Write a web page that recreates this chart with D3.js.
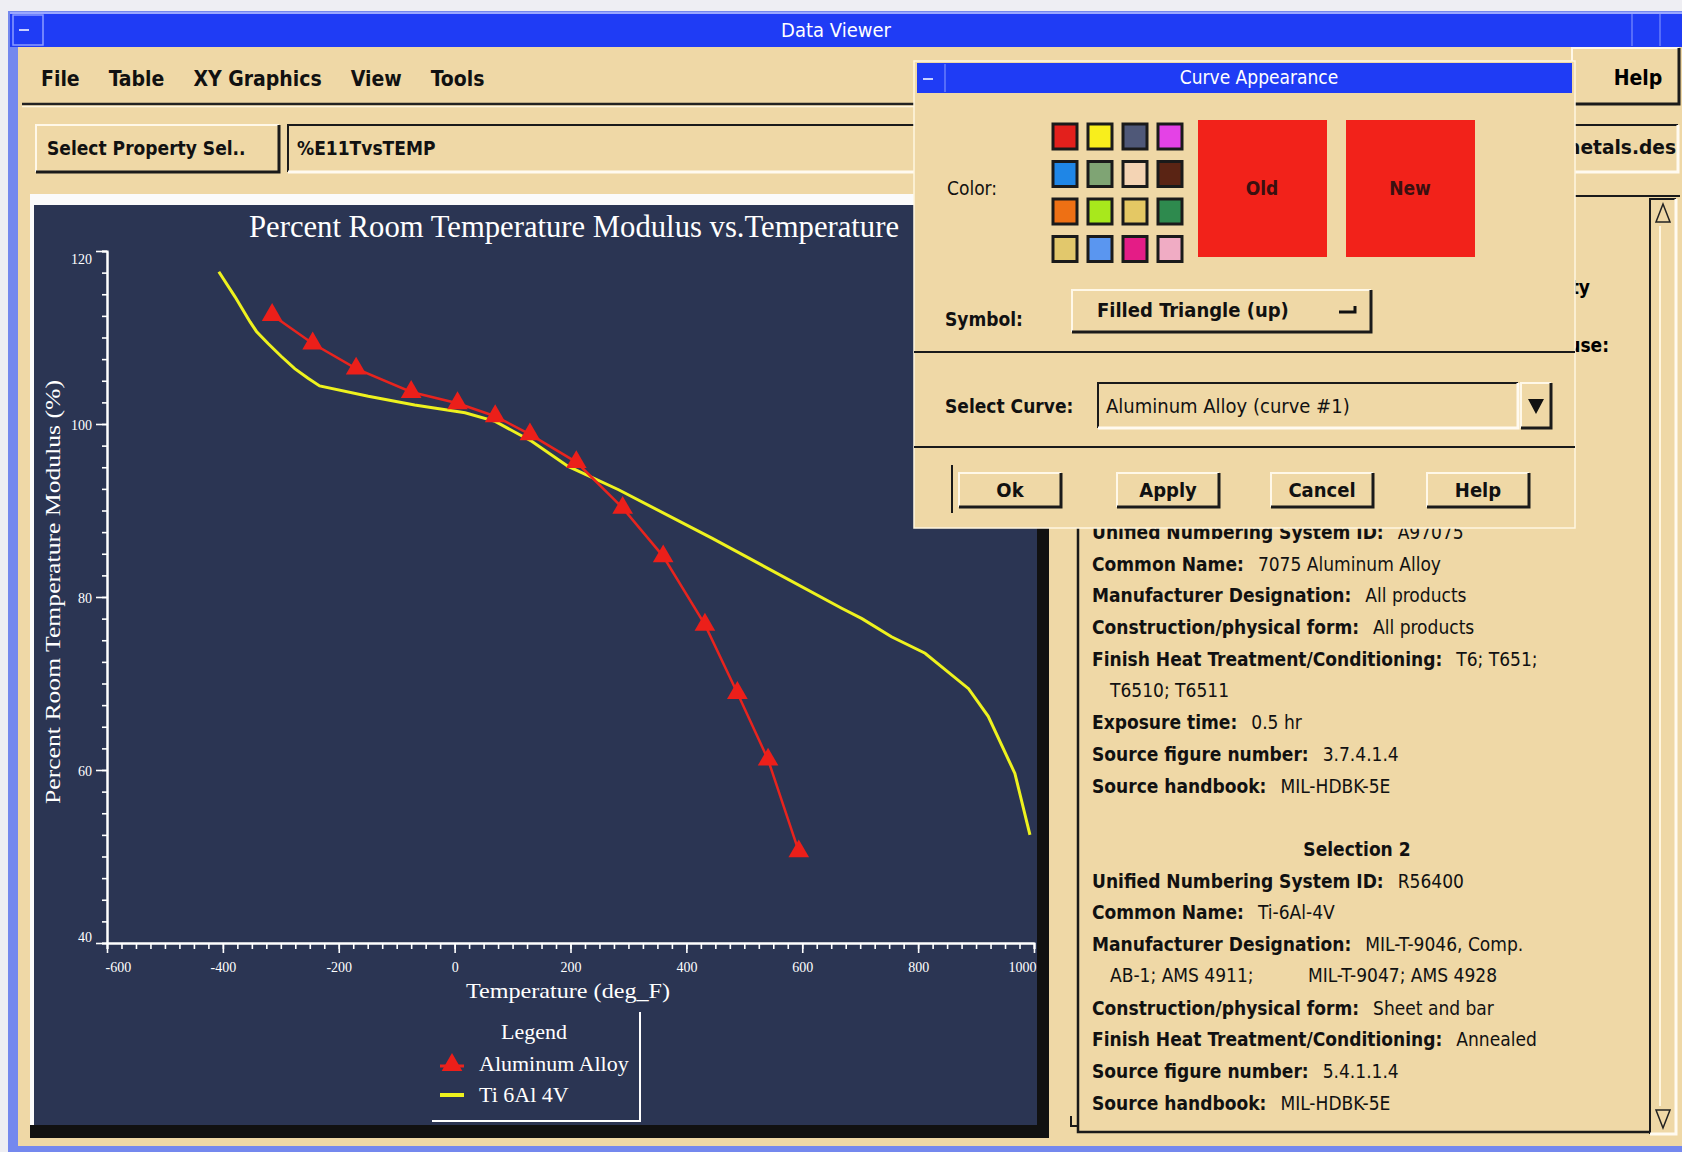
<!DOCTYPE html>
<html>
<head>
<meta charset="utf-8">
<script src="https://cdn.jsdelivr.net/npm/d3@7"></script>
<style>
  body { margin: 0; background: #eeeef3; overflow: hidden }
  .ui { font-family: "DejaVu Sans Condensed", "Liberation Sans Narrow", "DejaVu Sans", sans-serif; white-space: pre }
  .serif { font-family: "Liberation Serif", "DejaVu Serif", serif }
</style>
</head>
<body>
<script>
// ---- chart data ----
let alTemp = [-315, -245, -170, -75, 5, 70, 130, 210, 290, 360, 432, 488, 541, 594]
let alPct  = [112.6, 109.3, 106.4, 103.7, 102.4, 100.9, 98.8, 95.6, 90.3, 84.7, 76.8, 68.9, 61.2, 50.6]
let tiTemp = [-407, -379, -353, -342, -322, -299, -276, -253, -233, -149, -69, 18, 70, 133, 196, 283, 444, 668, 703, 754, 812, 887, 921, 967, 993]
let tiPct  = [117.6, 114.7, 111.8, 110.7, 109.3, 107.8, 106.4, 105.3, 104.4, 103.2, 102.2, 101.3, 100.3, 98.0, 95.1, 92.4, 86.8, 78.7, 77.5, 75.4, 73.5, 69.4, 66.2, 59.6, 52.5]
let xTicks = [-600, -400, -200, 0, 200, 400, 600, 800, 1000]
let yTicks = [40, 60, 80, 100, 120]
let seriesNames = ['Aluminum Alloy', 'Ti 6Al 4V']

// ---- application text ----
let menuItems = ['File', 'Table', 'XY Graphics', 'View', 'Tools']
let swatchColors = ['#e3201c', '#f8ee1c', '#4f5878', '#e442e6',
                    '#1f86e6', '#7fa474', '#f4d4b4', '#5a2414',
                    '#ee7014', '#a8e81c', '#e4c864', '#2e8a4e',
                    '#e2c86c', '#5a96f0', '#e41c86', '#f0acc4']
let dialogButtons = ['Ok', 'Apply', 'Cancel', 'Help']
let infoLines = [
  ['Unified Numbering System ID:', 'A97075'],
  ['Common Name:', '7075 Aluminum Alloy'],
  ['Manufacturer Designation:', 'All products'],
  ['Construction/physical form:', 'All products'],
  ['Finish Heat Treatment/Conditioning:', 'T6; T651;'],
  ['', 'T6510; T6511'],
  ['Exposure time:', '0.5 hr'],
  ['Source figure number:', '3.7.4.1.4'],
  ['Source handbook:', 'MIL-HDBK-5E'],
  ['', ''],
  ['Selection 2', null],
  ['Unified Numbering System ID:', 'R56400'],
  ['Common Name:', 'Ti-6Al-4V'],
  ['Manufacturer Designation:', 'MIL-T-9046, Comp.'],
  ['', 'AB-1; AMS 4911;          MIL-T-9047; AMS 4928'],
  ['Construction/physical form:', 'Sheet and bar'],
  ['Finish Heat Treatment/Conditioning:', 'Annealed'],
  ['Source figure number:', '5.4.1.1.4'],
  ['Source handbook:', 'MIL-HDBK-5E']
]

let tan = '#efd8a6'
let navy = '#2b3553'
let blue = '#1f3cf5'
let W = 1682, H = 1152

let svg = d3.select('body').append('svg')
  .attr('width', W).attr('height', H)

//raised / sunken box helper
function bevel(g, x, y, w, h, sunken, fill) {
  g.append('rect').attr('x', x).attr('y', y).attr('width', w).attr('height', h)
    .attr('fill', fill || tan)
  let lt = sunken ? '#1a1a1a' : '#fff8e8', dk = sunken ? '#fffaf0' : '#1a1a1a'
  g.append('path').attr('d', `M${x},${y + h}V${y}H${x + w}`)
    .attr('fill', 'none').attr('stroke', lt).attr('stroke-width', 2)
  g.append('path').attr('d', `M${x + w},${y}V${y + h}H${x}`)
    .attr('fill', 'none').attr('stroke', dk).attr('stroke-width', 3)
}

// ---- window frame ----
svg.append('rect').attr('x', 8).attr('y', 11).attr('width', W - 8).attr('height', H - 11).attr('fill', '#7488ee')
svg.append('rect').attr('x', 18).attr('y', 47).attr('width', W - 18).attr('height', 1099).attr('fill', tan)
svg.append('rect').attr('x', 10).attr('y', 13).attr('width', W - 10).attr('height', 34).attr('fill', blue)
svg.append('line').attr('x1', 10).attr('x2', W).attr('y1', 13).attr('y2', 13).attr('stroke', '#9aa8ff').attr('stroke-width', 2)
svg.append('rect').attr('x', 13).attr('y', 15).attr('width', 30).attr('height', 30)
  .attr('fill', 'none').attr('stroke', '#8c9cff').attr('stroke-width', 1.5)
svg.append('line').attr('x1', 19).attr('x2', 29).attr('y1', 30).attr('y2', 30).attr('stroke', '#c8d0ff').attr('stroke-width', 2)
svg.append('line').attr('x1', 1632).attr('x2', 1632).attr('y1', 14).attr('y2', 46).attr('stroke', '#8c9cff')
svg.append('line').attr('x1', 1660).attr('x2', 1660).attr('y1', 14).attr('y2', 46).attr('stroke', '#8c9cff')
svg.append('text').attr('class', 'ui').attr('x', 836).attr('y', 31)
  .attr('text-anchor', 'middle').attr('dominant-baseline', 'middle')
  .attr('fill', 'white').attr('font-size', 20).text('Data Viewer')

// ---- menu bar ----
let menu = svg.append('g').attr('class', 'ui').attr('font-size', 21).attr('font-weight', 'bold').attr('fill', '#111')
let mx = 41
menuItems.forEach(m => {
  let t = menu.append('text').attr('x', mx).attr('y', 80).attr('dominant-baseline', 'middle').text(m)
  mx += t.node().getComputedTextLength() + 29
})
svg.append('line').attr('x1', 22).attr('x2', 1572).attr('y1', 104).attr('y2', 104).attr('stroke', '#222').attr('stroke-width', 2.5)
svg.append('line').attr('x1', 22).attr('x2', 1572).attr('y1', 106.5).attr('y2', 106.5).attr('stroke', '#fff6e0').attr('stroke-width', 1.5)
bevel(svg, 1572, 48, 107, 56, false)
svg.append('text').attr('class', 'ui').attr('x', 1638).attr('y', 79).attr('text-anchor', 'middle')
  .attr('dominant-baseline', 'middle').attr('font-size', 21).attr('font-weight', 'bold').text('Help')

// ---- property row ----
bevel(svg, 36, 125, 243, 47, false)
svg.append('text').attr('class', 'ui').attr('x', 47).attr('y', 149).attr('dominant-baseline', 'middle')
  .attr('font-size', 19).attr('font-weight', 'bold').attr('fill', '#111').text('Select Property Sel..')
bevel(svg, 288, 125, 1390, 47, true)
svg.append('text').attr('class', 'ui').attr('x', 297).attr('y', 149).attr('dominant-baseline', 'middle')
  .attr('font-size', 19).attr('font-weight', 'bold').attr('fill', '#111').text('%E11TvsTEMP')
svg.append('text').attr('class', 'ui').attr('x', 1676).attr('y', 148).attr('text-anchor', 'end')
  .attr('dominant-baseline', 'middle').attr('font-size', 19).attr('font-weight', 'bold').attr('fill', '#111')
  .attr('textLength', 115).attr('lengthAdjust', 'spacingAndGlyphs')
  .text('metals.des')

// ---- labels behind the dialog on the right ----
svg.append('text').attr('class', 'ui').attr('x', 1590).attr('y', 288).attr('text-anchor', 'end')
  .attr('dominant-baseline', 'middle').attr('font-size', 19).attr('font-weight', 'bold').text('Selected Property')
svg.append('text').attr('class', 'ui').attr('x', 1609).attr('y', 346).attr('text-anchor', 'end')
  .attr('dominant-baseline', 'middle').attr('font-size', 19).attr('font-weight', 'bold').text('Curves to use:')
svg.append('line').attr('x1', 1575).attr('x2', 1680).attr('y1', 196).attr('y2', 196).attr('stroke', '#1a1a1a').attr('stroke-width', 2)

// ---- info text area ----
let info = svg.append('g')
info.append('path').attr('d', 'M1078,500V1132H1649').attr('fill', 'none').attr('stroke', '#1a1a1a').attr('stroke-width', 2.5)
info.append('path').attr('d', 'M1071,1116V1126H1078').attr('fill', 'none').attr('stroke', '#1a1a1a').attr('stroke-width', 2)
bevel(info, 1650, 199, 26, 935, true)
info.append('path').attr('d', 'M1663,204L1656,222H1670Z').attr('fill', 'none').attr('stroke', '#222').attr('stroke-width', 1.5)
info.append('path').attr('d', 'M1663,1128L1656,1110H1670Z').attr('fill', 'none').attr('stroke', '#222').attr('stroke-width', 1.5)
info.append('line').attr('x1', 1660).attr('x2', 1660).attr('y1', 226).attr('y2', 1106).attr('stroke', '#fff6e0').attr('stroke-width', 2)

let lineH = 31.7
infoLines.forEach((l, i) => {
  let yy = 533 + i * lineH
  let t = info.append('text').attr('class', 'ui').attr('font-size', 19).attr('fill', '#111')
    .attr('dominant-baseline', 'middle').attr('y', yy)
  if (l[1] === null) {
    t.attr('x', 1357).attr('text-anchor', 'middle').attr('font-weight', 'bold').text(l[0])
  } else if (l[0] === '') {
    t.attr('x', 1110).text(l[1])
  } else {
    t.attr('x', 1092)
    t.append('tspan').attr('font-weight', 'bold').text(l[0])
    t.append('tspan').attr('dx', 14).text(l[1])
  }
})

// ---- plot panel ----
svg.append('rect').attr('x', 30).attr('y', 194).attr('width', 1019).attr('height', 944).attr('fill', '#111')
svg.append('rect').attr('x', 30).attr('y', 194).attr('width', 1007).attr('height', 931).attr('fill', '#fbfbfb')
svg.append('rect').attr('x', 34).attr('y', 205).attr('width', 1003).attr('height', 920).attr('fill', navy)

let x = d3.scaleLinear().domain([-600, 1000]).range([107, 1034])
let y = d3.scaleLinear().domain([40, 120]).range([943, 251])

let plot = svg.append('g')

svg.append('text').attr('class', 'serif').attr('x', 574).attr('y', 237).attr('text-anchor', 'middle')
  .attr('fill', 'white').attr('font-size', 31).attr('textLength', 650).attr('lengthAdjust', 'spacingAndGlyphs')
  .text('Percent Room Temperature Modulus vs.Temperature')

svg.append('text').attr('class', 'serif')
  .attr('transform', 'translate(60,592) rotate(-90)').attr('text-anchor', 'middle')
  .attr('fill', 'white').attr('font-size', 22).attr('textLength', 424).attr('lengthAdjust', 'spacingAndGlyphs')
  .text('Percent Room Temperature Modulus (%)')

svg.append('text').attr('class', 'serif').attr('x', 568).attr('y', 998).attr('text-anchor', 'middle')
  .attr('fill', 'white').attr('font-size', 21).attr('textLength', 204).attr('lengthAdjust', 'spacingAndGlyphs')
  .text('Temperature (deg_F)')

//axes
let xMinor = d3.range(-600, 1001, 25)
let yMinor = d3.range(40, 120.1, 2.5)

let xAxisMinor = plot.append('g').attr('transform', `translate(0,${y(40)})`)
  .call(d3.axisBottom(x).tickValues(xMinor).tickSize(6).tickFormat(''))
let xAxis = plot.append('g').attr('transform', `translate(0,${y(40)})`)
  .call(d3.axisBottom(x).tickValues(xTicks).tickSize(10).tickSizeOuter(0).tickPadding(9).tickFormat(d => String(d)))
let yAxisMinor = plot.append('g').attr('transform', `translate(${x(-600)},0)`)
  .call(d3.axisLeft(y).tickValues(yMinor).tickSize(5).tickFormat(''))
let yAxis = plot.append('g').attr('transform', `translate(${x(-600)},0)`)
  .call(d3.axisLeft(y).tickValues(yTicks).tickSize(11).tickSizeOuter(0).tickPadding(4).tickFormat(d => String(d)))

plot.selectAll('.domain').attr('stroke', 'white').attr('stroke-width', 2)
plot.selectAll('.tick line').attr('stroke', 'white').attr('stroke-width', 1.6)
plot.selectAll('.tick text').attr('class', 'serif').attr('fill', 'white').attr('font-size', 14)
xAxis.selectAll('.tick text').filter(d => d === -600).attr('text-anchor', 'start').attr('x', -2)
xAxis.selectAll('.tick text').filter(d => d === 1000).attr('text-anchor', 'end').attr('x', 2)
yAxis.selectAll('.tick text').attr('dy', d => d === 120 ? '0.9em' : d === 40 ? '-0.1em' : '0.4em')

//series
let tiData = tiTemp.map((t, i) => [t, tiPct[i]])
let alData = alTemp.map((t, i) => [t, alPct[i]])

plot.append('path').datum(tiData)
  .attr('d', d3.line().x(d => x(d[0])).y(d => y(d[1])))
  .attr('fill', 'none').attr('stroke', '#eef21e').attr('stroke-width', 3)

plot.append('path').datum(alData)
  .attr('d', d3.line().x(d => x(d[0])).y(d => y(d[1])))
  .attr('fill', 'none').attr('stroke', '#e8241e').attr('stroke-width', 2.5)

let tri = d3.symbol(d3.symbolTriangle).size(185)
plot.selectAll('.al').data(alData).enter().append('path')
  .attr('transform', d => `translate(${x(d[0])},${y(d[1])})`)
  .attr('d', tri).attr('fill', '#ec1f1a')

//legend
let legend = svg.append('g')
legend.append('path').attr('d', 'M640,1012V1121H432').attr('fill', 'none').attr('stroke', 'white').attr('stroke-width', 2)
legend.append('text').attr('class', 'serif').attr('x', 534).attr('y', 1039).attr('text-anchor', 'middle')
  .attr('fill', 'white').attr('font-size', 22).text('Legend')
legend.append('line').attr('x1', 440).attr('x2', 464).attr('y1', 1066).attr('y2', 1066).attr('stroke', '#e8241e').attr('stroke-width', 3)
legend.append('path').attr('transform', 'translate(452,1065)').attr('d', tri).attr('fill', '#ec1f1a')
legend.append('line').attr('x1', 440).attr('x2', 464).attr('y1', 1095).attr('y2', 1095).attr('stroke', '#eef21e').attr('stroke-width', 4)
legend.selectAll('.lt').data(seriesNames).enter().append('text').attr('class', 'serif')
  .attr('x', 479).attr('y', (d, i) => 1071 + i * 31).attr('fill', 'white').attr('font-size', 22).text(d => d)

// ---- Curve Appearance dialog ----
let dlg = svg.append('g')
dlg.append('rect').attr('x', 914).attr('y', 61).attr('width', 661).attr('height', 467).attr('fill', tan)
  .attr('stroke', '#fff6e0').attr('stroke-width', 1.5)
dlg.append('rect').attr('x', 917).attr('y', 63).attr('width', 655).attr('height', 30).attr('fill', blue)
dlg.append('line').attr('x1', 945).attr('x2', 945).attr('y1', 64).attr('y2', 92).attr('stroke', '#8c9cff')
dlg.append('line').attr('x1', 923).attr('x2', 933).attr('y1', 79).attr('y2', 79).attr('stroke', '#c8d0ff').attr('stroke-width', 2)
dlg.append('text').attr('class', 'ui').attr('x', 1259).attr('y', 78).attr('text-anchor', 'middle')
  .attr('dominant-baseline', 'middle').attr('fill', 'white').attr('font-size', 19).text('Curve Appearance')

dlg.append('text').attr('class', 'ui').attr('x', 947).attr('y', 189).attr('dominant-baseline', 'middle')
  .attr('font-size', 19).attr('fill', '#111').text('Color:')
dlg.selectAll('.sw').data(swatchColors).enter().append('rect')
  .attr('x', (d, i) => 1053 + (i % 4) * 35).attr('y', (d, i) => 124 + Math.floor(i / 4) * 37.5)
  .attr('width', 24).attr('height', 25).attr('fill', d => d)
  .attr('stroke', '#1a1a1a').attr('stroke-width', 3)

dlg.selectAll('.on').data(['Old', 'New']).enter().append('rect')
  .attr('x', (d, i) => 1198 + i * 148).attr('y', 120).attr('width', 129).attr('height', 137).attr('fill', '#f2221a')
dlg.selectAll('.ont').data(['Old', 'New']).enter().append('text').attr('class', 'ui')
  .attr('x', (d, i) => 1262 + i * 148).attr('y', 189).attr('text-anchor', 'middle').attr('dominant-baseline', 'middle')
  .attr('font-size', 19).attr('font-weight', 'bold').attr('fill', '#3a1010').text(d => d)

dlg.append('text').attr('class', 'ui').attr('x', 945).attr('y', 320).attr('dominant-baseline', 'middle')
  .attr('font-size', 19).attr('font-weight', 'bold').attr('fill', '#111').text('Symbol:')
bevel(dlg, 1072, 290, 299, 42, false)
dlg.append('text').attr('class', 'ui').attr('x', 1097).attr('y', 311).attr('dominant-baseline', 'middle')
  .attr('font-size', 20).attr('font-weight', 'bold').attr('fill', '#111').text('Filled Triangle (up)')
dlg.append('path').attr('d', 'M1339,312H1355V306').attr('fill', 'none').attr('stroke', '#111').attr('stroke-width', 3)

dlg.append('line').attr('x1', 914).attr('x2', 1575).attr('y1', 352).attr('y2', 352).attr('stroke', '#1a1a1a').attr('stroke-width', 2)
dlg.append('text').attr('class', 'ui').attr('x', 945).attr('y', 407).attr('dominant-baseline', 'middle')
  .attr('font-size', 19).attr('font-weight', 'bold').attr('fill', '#111').text('Select Curve:')
bevel(dlg, 1098, 383, 420, 45, true)
dlg.append('text').attr('class', 'ui').attr('x', 1106).attr('y', 407).attr('dominant-baseline', 'middle')
  .attr('font-size', 20).attr('fill', '#111').text('Aluminum Alloy (curve #1)')
bevel(dlg, 1521, 383, 30, 45, false)
dlg.append('path').attr('d', 'M1528,399H1544L1536,414Z').attr('fill', '#111')
dlg.append('line').attr('x1', 914).attr('x2', 1575).attr('y1', 447).attr('y2', 447).attr('stroke', '#1a1a1a').attr('stroke-width', 2)

dlg.append('path').attr('d', 'M952,513V465').attr('stroke', '#1a1a1a').attr('stroke-width', 2)
dlg.selectAll('.bt').data(dialogButtons).enter().each(function (d, i) {
  let bx = [959, 1117, 1271, 1427][i]
  bevel(dlg, bx, 473, 102, 34, false)
  dlg.append('text').attr('class', 'ui').attr('x', bx + 51).attr('y', 491).attr('text-anchor', 'middle')
    .attr('dominant-baseline', 'middle').attr('font-size', 20).attr('font-weight', 'bold').attr('fill', '#111').text(d)
})
</script>
</body>
</html>
